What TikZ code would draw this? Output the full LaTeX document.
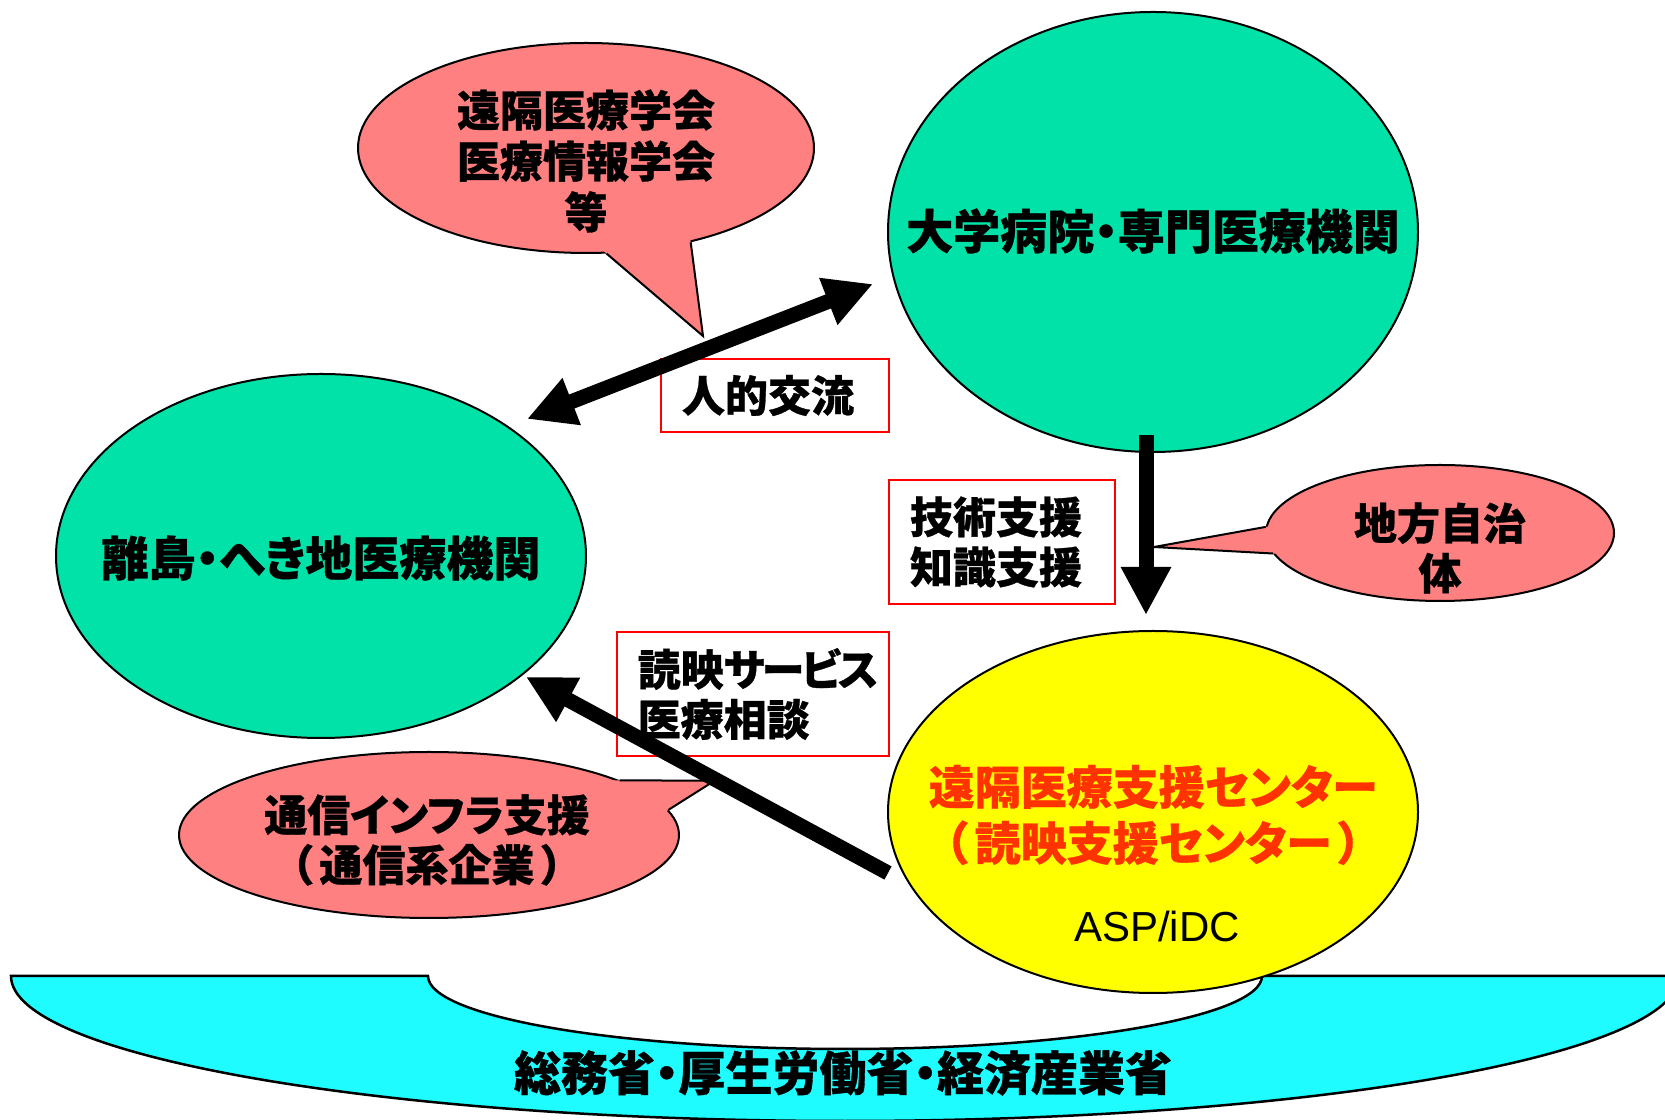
\documentclass[tikz,border=0pt]{standalone}
\usepackage{fontspec}
\setmainfont{Liberation Sans}
\newfontfamily\jp[RawFeature=+palt, FakeBold=0.7]{Noto Sans CJK JP}
\newcommand{\lpar}{（\kern7pt}
\newcommand{\rpar}{\kern7pt）}
\usetikzlibrary{arrows.meta,shapes.geometric,calc}
\definecolor{grn}{RGB}{0,226,168}
\definecolor{pnk}{RGB}{255,128,128}
\definecolor{ylw}{RGB}{255,255,0}
\definecolor{cyn}{RGB}{30,252,255}
\definecolor{redtxt}{RGB}{255,51,0}
\definecolor{boxred}{RGB}{255,0,0}
\tikzset{
  blob/.style={ellipse, draw=black, line width=2pt, inner sep=0pt},
  biglab/.style={font=\jp\bfseries\fontsize{47}{56}\selectfont, align=center, inner sep=0pt},
  smalllab/.style={font=\jp\bfseries\fontsize{43}{51}\selectfont, align=center, inner sep=0pt},
  redbox/.style={draw=boxred, line width=2pt, inner xsep=21pt, inner ysep=0pt, align=left,
    font=\jp\bfseries\fontsize{43}{50}\selectfont},
  outline/.style={draw=black, line width=2pt, line join=miter},
  bigtip/.tip={Triangle[length=48pt,width=47pt]},
  bigarrow/.style={line width=15pt, draw=black}
}
\begin{document}
\begin{tikzpicture}[x=1pt,y=1pt]
\useasboundingbox (0,0) rectangle (1665,1119);
\clip (0,0) rectangle (1665,1119);

% bottom band
\draw[fill=cyn, line width=2.5pt] (11,143) -- (428,143)
  arc[start angle=180, end angle=360, x radius=417, y radius=73]
  -- (1679,143)
  arc[start angle=0, end angle=-180, x radius=834, y radius=145] -- cycle;
\node[biglab] (tMin) at (843,46) {総務省・厚生労働省・経済産業省};

% main ellipses
\node[blob, fill=grn, minimum width=530pt, minimum height=440pt] (TG) at (1153,887) {};
\node[blob, fill=grn, minimum width=530pt, minimum height=364pt] (LG) at (321,563) {};
\node[blob, fill=ylw, minimum width=530pt, minimum height=362pt] (YE) at (1153,307) {};

% callouts
\node[blob, fill=pnk, minimum width=456pt, minimum height=210pt] (PT) at (586,971) {};
\coordinate (PTtip) at (703,783);
\path (PT.-79.3) coordinate (PTa) (PT.-42.4) coordinate (PTb);
\fill[pnk] (PTtip) -- ($(PTtip)!1.2!(PTa)$) -- ($(PTtip)!1.2!(PTb)$) -- cycle;
\draw[outline] (PTa) -- (PTtip) -- (PTb);

\node[blob, fill=pnk, minimum width=348pt, minimum height=136pt] (PR) at (1440,586) {};
\coordinate (PRtip) at (1154,572);
\path (PR.178.7) coordinate (PRa) (PR.187.3) coordinate (PRb);
\fill[pnk] (PRtip) -- ($(PRtip)!1.2!(PRa)$) -- ($(PRtip)!1.2!(PRb)$) -- cycle;
\draw[outline] (PRa) -- (PRtip) -- (PRb);

\node[blob, fill=pnk, minimum width=500pt, minimum height=166pt] (PB) at (429,284) {};
\coordinate (PBtip) at (714.6,338.3);
\path (PB.16.3) coordinate (PBa) (PB.6.6) coordinate (PBb);
\fill[pnk] (PBtip) -- ($(PBtip)!1.2!(PBa)$) -- ($(PBtip)!1.2!(PBb)$) -- cycle;
\draw[outline] (PBa) -- (PBtip) -- (PBb);

% red boxes
\node[redbox, text width=186pt, minimum height=73pt] (b1) at (775,723.5) {人的交流};
\node[redbox, text width=184pt, minimum height=124pt] (b2) at (1002,577) {技術支援\\知識支援};
\node[redbox, text width=230pt, minimum height=124pt] (b3) at (752.7,425) {読映{\addfontfeature{LetterSpace=-6}サービス}\\医療相談};

% arrows
\coordinate (d1) at (527,700);
\coordinate (d2) at (873,835);
\draw[bigarrow, bigtip-bigtip] (d1) -- (d2);
\coordinate (v1) at (1146,684);
\coordinate (v2) at (1146,504);
\draw[bigarrow, -bigtip] (v1) -- (v2);
\coordinate (s1) at (888,246);
\coordinate (s2) at (526,442);
\draw[bigarrow, -bigtip] (s1) -- (s2);

% labels
\node[biglab] (tTG) at (1153,888) {大学病院・専門医療機関};
\node[biglab] (tLG) at (321,561) {離島・へき地医療機関};
\node[biglab, text=redtxt, font=\jp\bfseries\fontsize{46}{56}\selectfont] (tYE) at (1153,304) {遠隔医療支援センター\\\lpar 読映支援センター\rpar};
\node[inner sep=0pt, font=\fontsize{42}{48}\selectfont] (tASP) at (1157,193) {ASP/iDC};
\node[smalllab] (tPT) at (586,958) {遠隔医療学会\\医療情報学会\\等};
\node[smalllab, font=\jp\bfseries\fontsize{43}{50}\selectfont] (tPR) at (1440,571) {地方自治\\体};
\node[smalllab, font=\jp\bfseries\fontsize{43}{50}\selectfont] (tPB) at (427,279) {通信インフラ支援\\\lpar 通信系企業\rpar};
\end{tikzpicture}
\end{document}
